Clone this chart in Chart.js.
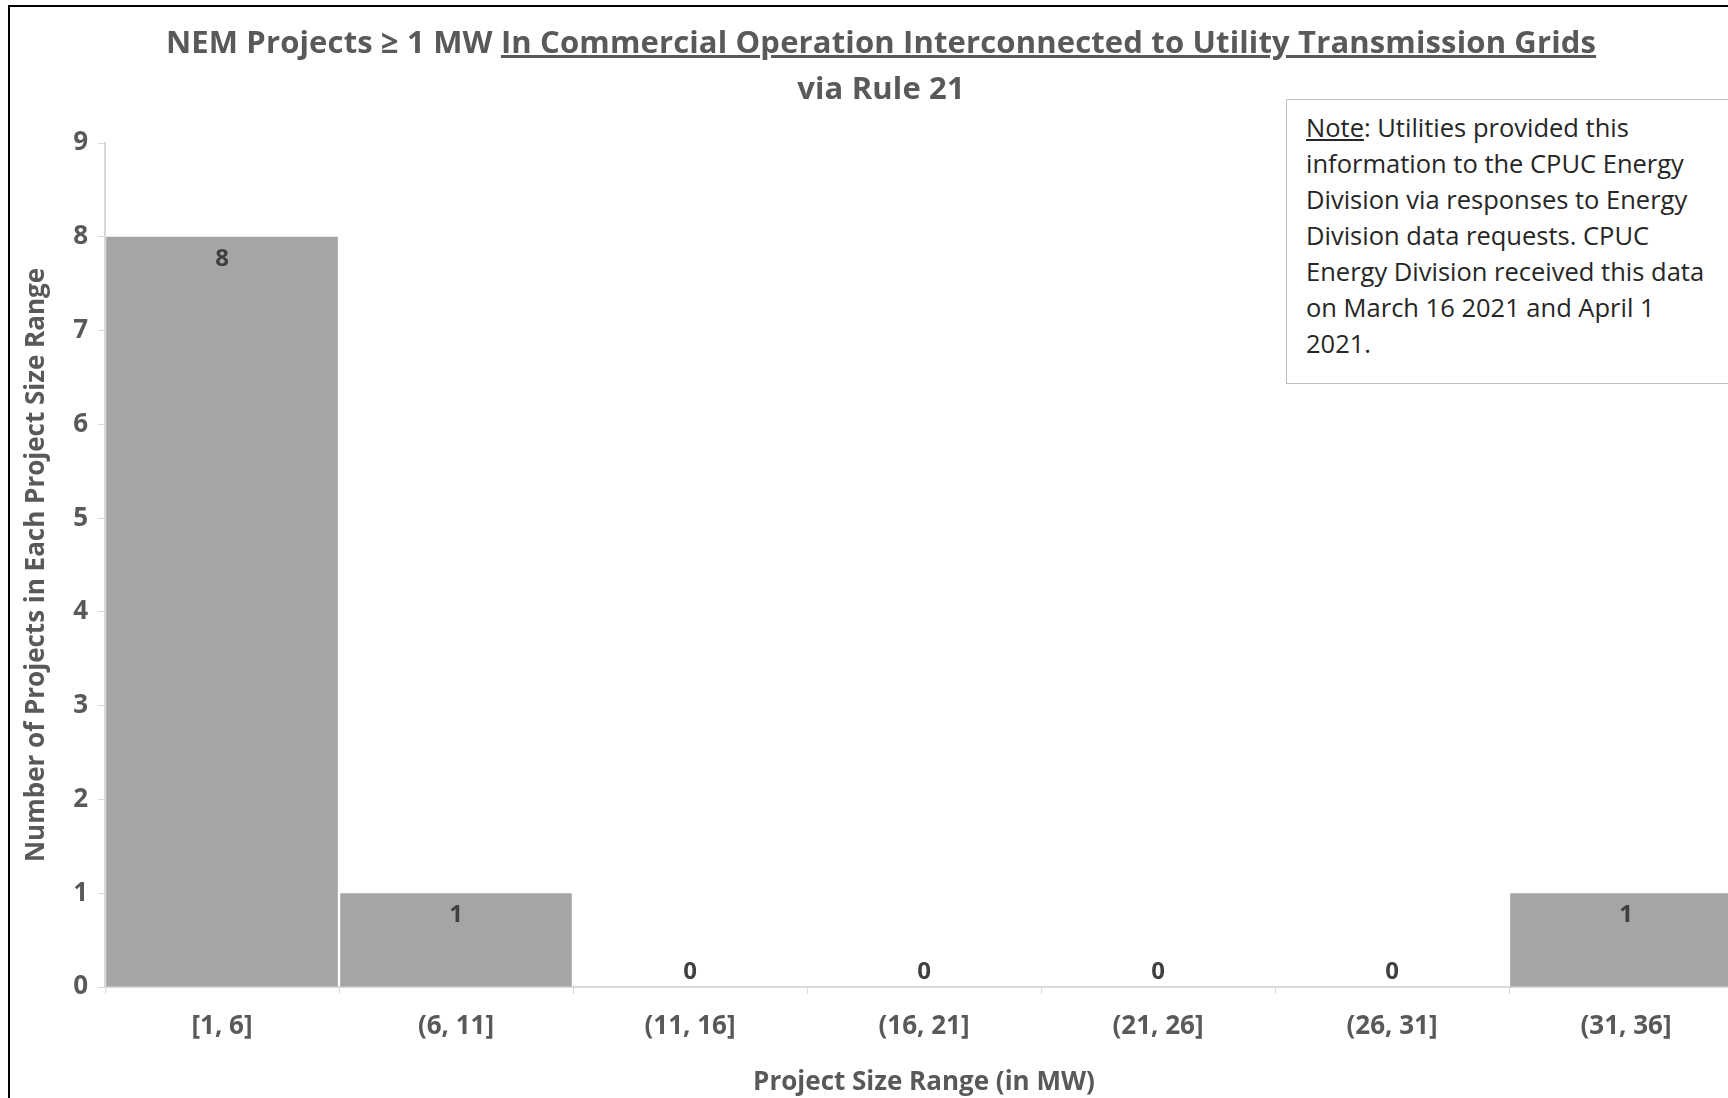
<!DOCTYPE html>
<html>
<head>
<meta charset="utf-8">
<script src="https://cdn.jsdelivr.net/npm/chart.js@4.4.1/dist/chart.umd.min.js"></script>
<style>
    html, body { margin: 0; padding: 0; background: #fff; overflow: hidden; width: 1728px; height: 1098px; }
    #wrap { position: relative; width: 1728px; height: 1098px; overflow: hidden; }
    #frame { position: absolute; left: 8px; top: 5px; width: 2000px; height: 2000px; border-left: 2px solid #000; border-top: 2px solid #000; }
    #chartCanvas { position: absolute; left: 0; top: 0; }
    #title { position: absolute; left: 0; top: 18px; width: 1762px; text-align: center; font-family: "Open Sans", sans-serif; font-weight: bold; font-size: 31px; line-height: 46px; color: #595959; letter-spacing: 0.15px; }
    #note { position: absolute; left: 1286px; top: 99px; width: 600px; height: 285px; border: 1.5px solid #bfbfbf; background: #fff;
            font-family: "Open Sans", sans-serif; font-size: 25.5px; line-height: 36px; color: #262626; padding: 9px 0 0 19px; box-sizing: border-box; }
</style>
</head>
<body>
<div id="wrap">
    <div id="frame"></div>
    <canvas id="chartCanvas" width="1760" height="1098"></canvas>
    <div id="title">NEM Projects ≥ 1 MW <u>In Commercial Operation Interconnected to Utility Transmission Grids</u><br>via Rule 21</div>
    <div id="note"><u>Note</u>: Utilities provided this<br>information to the CPUC Energy<br>Division via responses to Energy<br>Division data requests. CPUC<br>Energy Division received this data<br>on March 16 2021 and April 1<br>2021.</div>
</div>
<script>
const sizeRanges = ['[1, 6]', '(6, 11]', '(11, 16]', '(16, 21]', '(21, 26]', '(26, 31]', '(31, 36]'];
const projectCounts = [8, 1, 0, 0, 0, 0, 1];
const yMax = 9;

const axisColor = '#d9d9d9';
const textColor = '#595959';
const tickFont = { family: "'Open Sans', sans-serif", size: 26, weight: 'bold' };
const titleFont = { family: "'Open Sans', sans-serif", size: 26, weight: 'bold' };

// etiquetas de valor sobre/dentro de cada barra
const valueLabels = {
    id: 'valueLabels',
    afterDatasetsDraw(chart) {
        const ctx = chart.ctx;
        const meta = chart.getDatasetMeta(0);
        ctx.save();
        ctx.font = "bold 24px 'Open Sans', sans-serif";
        ctx.fillStyle = '#404040';
        ctx.textAlign = 'center';
        ctx.textBaseline = 'middle';
        meta.data.forEach((bar, i) => {
            const v = projectCounts[i];
            const y = v > 0 ? bar.y + 22 : bar.base - 15;
            ctx.fillText(String(v), bar.x, y);
        });
        ctx.restore();
    }
};

const ctx = document.getElementById('chartCanvas').getContext('2d');
new Chart(ctx, {
    type: 'bar',
    data: {
        labels: sizeRanges,
        datasets: [{
            data: projectCounts,
            backgroundColor: '#a5a5a5',
            borderWidth: 0,
            barPercentage: 1,
            categoryPercentage: 0.99
        }]
    },
    options: {
        responsive: false,
        animation: false,
        devicePixelRatio: 1,
        layout: { padding: { top: 143, left: 20, right: 17, bottom: 0 } },
        plugins: {
            legend: { display: false },
            tooltip: { enabled: false },
            title: { display: false }
        },
        scales: {
            x: {
                grid: { display: true, drawOnChartArea: false, drawTicks: true, tickLength: 7, color: axisColor, offset: true },
                border: { color: axisColor, width: 2 },
                ticks: { color: textColor, font: tickFont, padding: 17, maxRotation: 0 },
                title: { display: true, text: 'Project Size Range (in MW)', color: textColor, font: titleFont, padding: { top: 0, bottom: 0 } },
                afterFit(scale) { scale.height = 111; }
            },
            y: {
                min: 0,
                max: yMax,
                grid: { display: true, drawOnChartArea: false, drawTicks: true, tickLength: 7, color: axisColor },
                border: { color: axisColor, width: 2 },
                ticks: { stepSize: 1, color: textColor, font: tickFont, padding: 10 },
                title: { display: true, text: 'Number of Projects in Each Project Size Range', color: textColor, font: titleFont, padding: { top: 1, bottom: 0 } },
                afterFit(scale) { scale.width = 85; }
            }
        }
    },
    plugins: [valueLabels]
});
</script>
</body>
</html>
